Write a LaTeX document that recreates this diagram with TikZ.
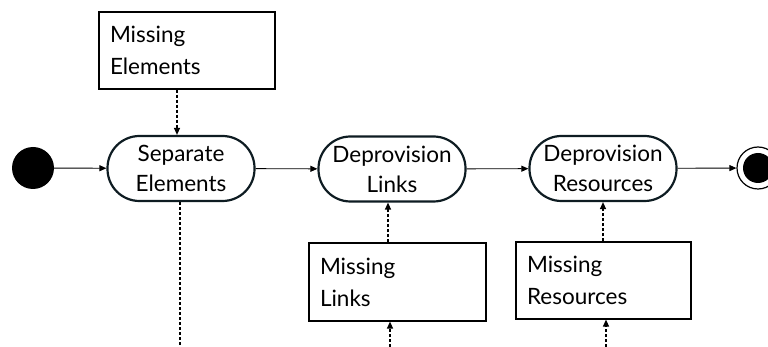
\documentclass[tikz,border=0pt]{standalone}
\usepackage{fontspec}
\setmainfont{Lato}
\usetikzlibrary{arrows.meta}
\definecolor{edge}{RGB}{14,28,34}
\tikzset{
  act/.style={draw=edge, line width=2.2pt, rounded corners=32pt, minimum width=147pt, minimum height=65pt, align=center, inner sep=0pt, font=\fontsize{22.5}{30}\selectfont},
  obj/.style={draw=black, line width=1.2pt, align=left, inner sep=0pt, font=\fontsize{22.5}{32}\selectfont},
  flow/.style={line width=0.9pt, -{Triangle[length=7pt,width=6pt]}},
  dep/.style={line width=1.2pt, dash pattern=on 3pt off 2pt, -{Triangle[length=7pt,width=6pt]}},
  depline/.style={line width=1.2pt, dash pattern=on 3pt off 2pt},
}
\begin{document}
\begin{tikzpicture}[x=1pt,y=-1pt]
\useasboundingbox (0,0) rectangle (768,347);
\clip (0,0) rectangle (768,347);
\node[circle, fill=black, minimum size=42pt, inner sep=0pt] (start) at (33,168) {};
\node[act] (sep) at (181,168.5) {Separate\\Elements};
\node[act] (links) at (392,169) {Deprovision\\Links};
\node[act] (res) at (603,168.5) {Deprovision\\Resources};
\node[circle, draw=black, line width=1.2pt, minimum size=42pt, inner sep=0pt] (end) at (758,168) {};
\node[circle, fill=black, minimum size=30pt, inner sep=0pt] at (end) {};

\node[obj, minimum width=176pt, minimum height=77pt, text width=154pt] (me) at (187,50.5) {Missing\\Elements};
\node[obj, minimum width=177pt, minimum height=78pt, text width=155pt] (ml) at (397.5,282) {Missing\\Links};
\node[obj, minimum width=175pt, minimum height=77pt, text width=153pt] (mr) at (603.5,280.5) {Missing\\Resources};

\coordinate (sepdown) at (180,347);
\coordinate (mlin) at (390,347);
\coordinate (mrin) at (606,347);

\draw[flow] (start) -- (sep);
\draw[flow] (sep) -- (links);
\draw[flow] (links) -- (res);
\draw[flow] (res) -- (end);

\draw[dep] (me.south -| 177,0) -- (sep.north -| 177,0);
\draw[depline] (sep.south -| sepdown) -- (sepdown);
\draw[dep] (ml.north -| 388,0) -- (links.south -| 388,0);
\draw[dep] (mlin) -- (ml.south -| mlin);
\draw[dep] (mr.north -| 603,0) -- (res.south -| 603,0);
\draw[dep] (mrin) -- (mr.south -| mrin);
\end{tikzpicture}
\end{document}
